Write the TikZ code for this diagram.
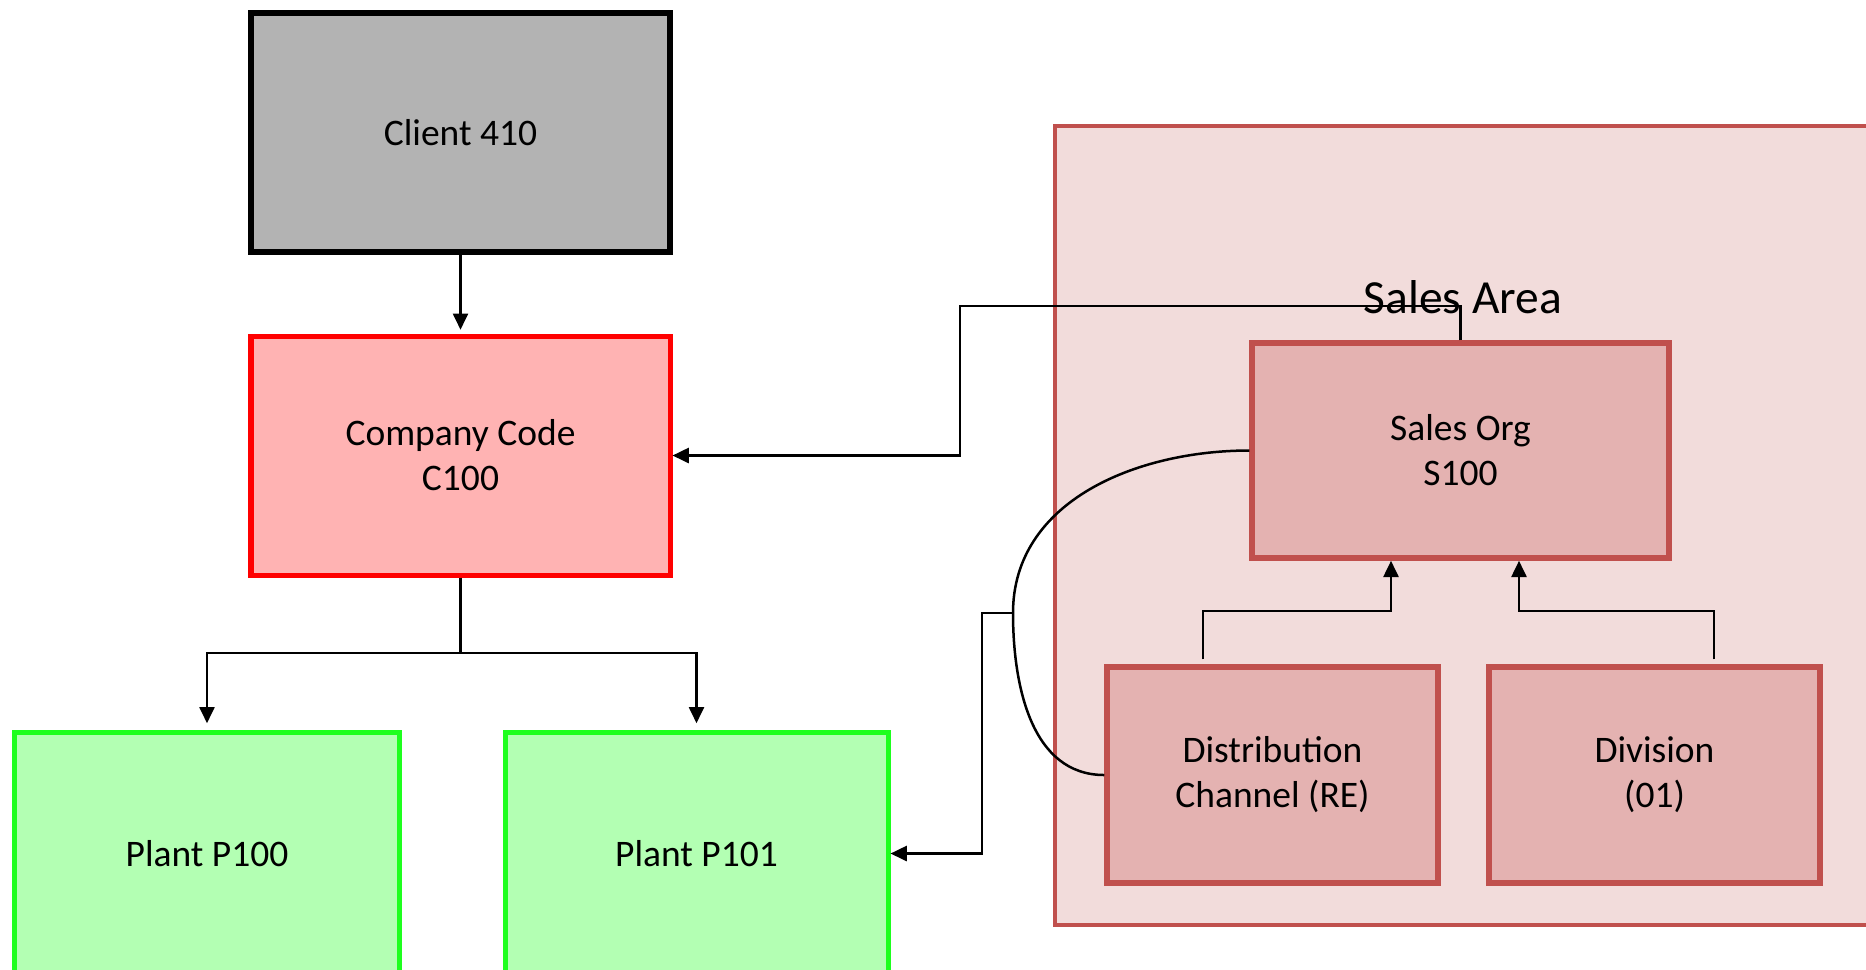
\documentclass[tikz,border=0pt]{standalone}
\usepackage{fontspec}
\setmainfont{Carlito}
\usetikzlibrary{arrows.meta}
\definecolor{clientfill}{HTML}{B3B3B3}
\definecolor{ccfill}{HTML}{FFB3B3}
\definecolor{ccdraw}{HTML}{FF0000}
\definecolor{plantfill}{HTML}{B3FFB3}
\definecolor{plantdraw}{HTML}{1EFF1E}
\definecolor{areafill}{HTML}{F2DCDB}
\definecolor{areadraw}{HTML}{C0504D}
\definecolor{orgfill}{HTML}{E4B2B1}
\tikzset{
  box/.style={rectangle, align=center, inner sep=0pt, font=\fontsize{15pt}{18pt}\selectfont, text=black},
  clientbox/.style={box, fill=clientfill, draw=black, line width=2.4pt},
  ccbox/.style={box, fill=ccfill, draw=ccdraw, line width=2pt},
  plantbox/.style={box, fill=plantfill, draw=plantdraw, line width=2pt},
  areabox/.style={rectangle, inner sep=0pt, fill=areafill, draw=areadraw, line width=1.6pt},
  orgbox/.style={box, fill=orgfill, draw=areadraw, line width=2.2pt},
  conn/.style={draw=black, line width=1pt},
  arr/.style={conn, -{Triangle[width=6pt,length=6.5pt]}},
}
\begin{document}
\begin{tikzpicture}[x=0.4pt,y=-0.4pt]
\useasboundingbox (0,0) rectangle (1866,969);
\fill[white] (0,0) rectangle (1866,969);
\clip (0,0) rectangle (1866,969);
% Sales area container
\node[areabox, minimum width=358pt, minimum height=319.6pt] (area) at (1502.5,525.5) {};
\node[font=\fontsize{19pt}{22pt}\selectfont] (arealabel) at (1463,297) {Sales Area};
% boxes
\node[clientbox, minimum width=167.6pt, minimum height=95.6pt] (client) at (460.5,132.5) {Client 410};
\node[ccbox, minimum width=167.6pt, minimum height=95.6pt] (company) at (460.5,455.5) {Company Code\\C100};
\node[plantbox, minimum width=153.6pt, minimum height=97.2pt] (p100) at (207,853.5) {Plant P100};
\node[plantbox, minimum width=153.2pt, minimum height=97.2pt] (p101) at (696.5,853.5) {Plant P101};
\node[orgbox, minimum width=166.8pt, minimum height=86pt] (salesorg) at (1460.5,450.5) {Sales Org\\S100};
\node[orgbox, minimum width=132.4pt, minimum height=86.4pt] (dc) at (1272.5,775) {Distribution\\Channel (RE)};
\node[orgbox, minimum width=132.4pt, minimum height=86.4pt] (div) at (1654.5,775) {Division\\(01)};
% connectors
\draw[arr, shorten >=1.5pt] (client) -- (company);
\coordinate (j) at (460.5,653);
\draw[conn] (company.south) -- (j);
\draw[arr, shorten >=2.5pt] (j) -| (p100.north);
\draw[arr, shorten >=2.5pt] (j) -| (p101.north);
\coordinate (t1) at (1460.5,306);
\coordinate (t2) at (960,306);
\coordinate (t3) at (960,455.5);
\draw[arr] (salesorg.north) -- (t1) -- (t2) -- (t3) -- (company.east);
\coordinate (d1) at (1203,611);
\coordinate (d2) at (1391,611);
\draw[arr] ([yshift=2pt]d1 |- dc.north) -- (d1) -- (d2) -- (d2 |- salesorg.south);
\coordinate (v1) at (1714,611);
\coordinate (v2) at (1519,611);
\draw[arr] ([yshift=2pt]v1 |- div.north) -- (v1) -- (v2) -- (v2 |- salesorg.south);
\coordinate (m) at (1013,613);
\draw[conn] (salesorg.west) to[out=180,in=90] (m) to[out=-90,in=180] (dc.west);
\coordinate (c1) at (982,613);
\draw[arr] (m) -- (c1) |- (p101.east);
\end{tikzpicture}
\end{document}
